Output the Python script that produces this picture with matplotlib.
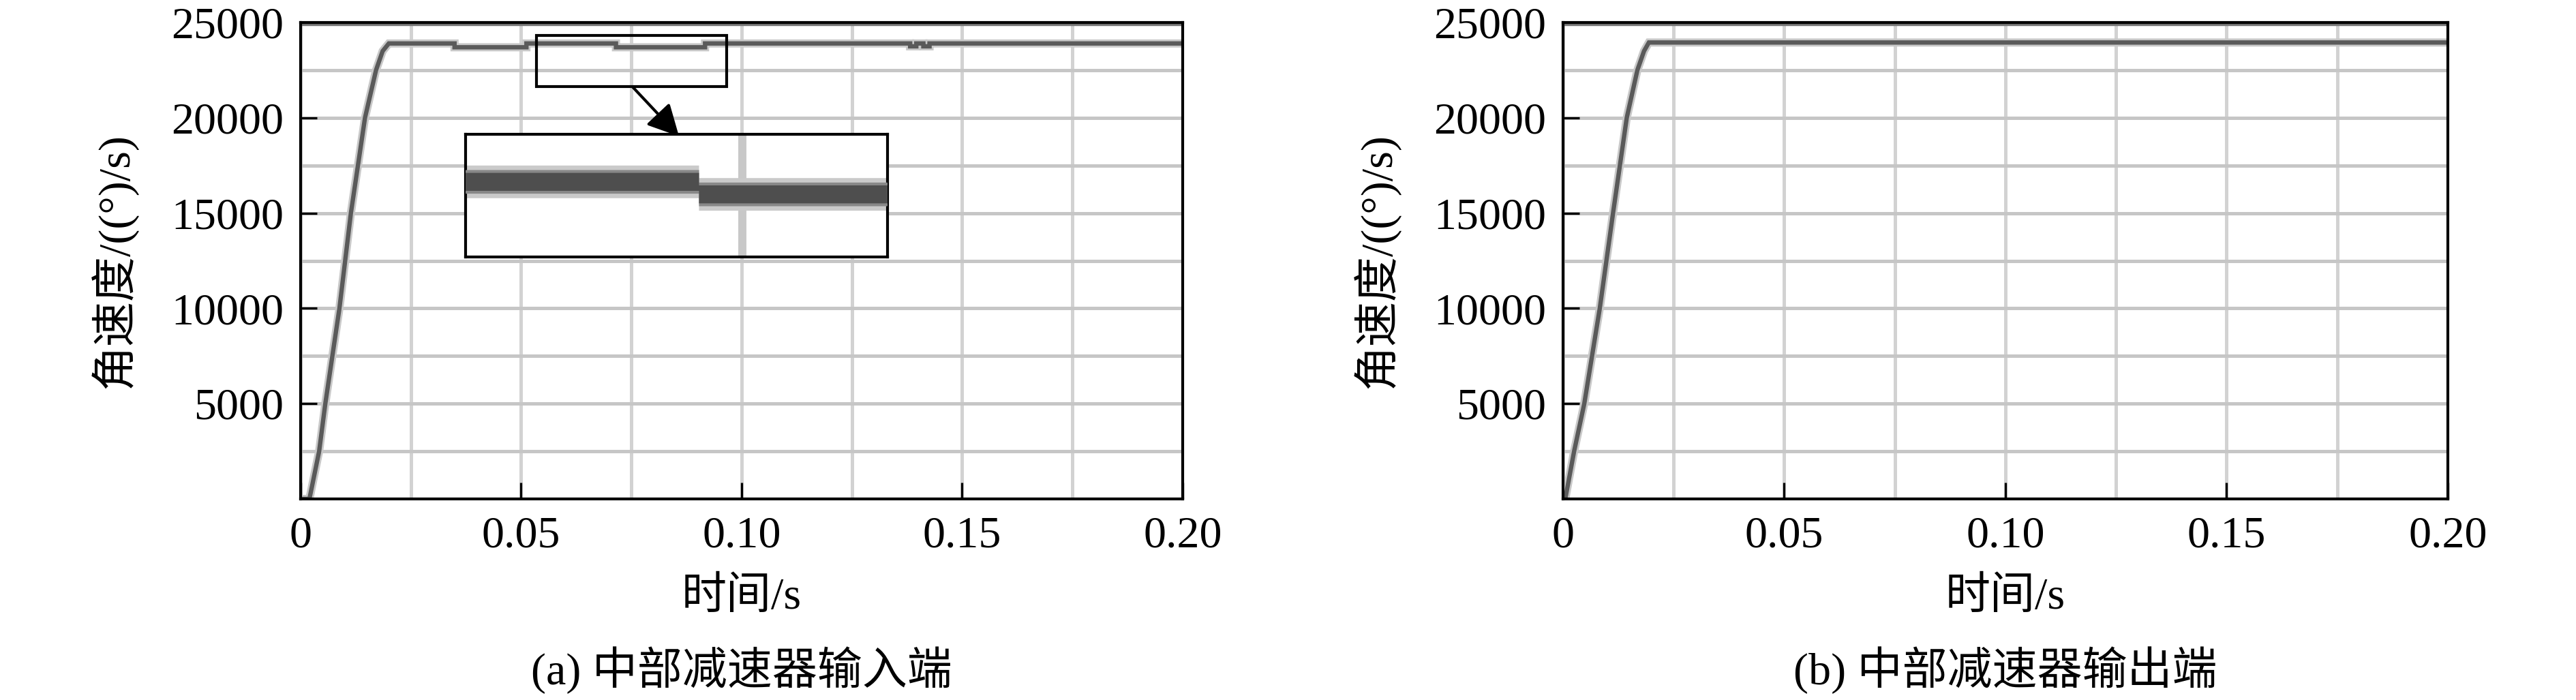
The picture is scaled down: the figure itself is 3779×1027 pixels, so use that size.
import numpy as np
import matplotlib
matplotlib.use('Agg')
import matplotlib.pyplot as plt
from matplotlib.patches import Rectangle

# ---------------- data ----------------
# (a) input end of the middle reducer
t_in = [0.0, 0.0020, 0.0042, 0.0056, 0.0088, 0.0114, 0.0146, 0.0171, 0.0186, 0.0200,
        0.0349, 0.0349, 0.0512, 0.0512, 0.0715, 0.0715, 0.0917, 0.0917,
        0.1382, 0.1382, 0.1396, 0.1396, 0.1412, 0.1412, 0.1426, 0.1426, 0.2000]
w_in = [0, 0, 2500, 5000, 10000, 15000, 20000, 22500, 23500, 23900,
        23900, 23700, 23700, 23900, 23900, 23700, 23700, 23900,
        23900, 23750, 23750, 23900, 23900, 23750, 23750, 23900, 23900]

# (b) output end of the middle reducer
t_out = [0.0, 0.0005, 0.0025, 0.0048, 0.0083, 0.0113, 0.0144, 0.0168, 0.0183, 0.0194, 0.2000]
w_out = [0, 0, 2500, 5000, 10000, 15000, 20000, 22500, 23500, 23950, 23950]

x_ticks = [0, 0.05, 0.10, 0.15, 0.20]
x_ticklabels = ['0', '0.05', '0.10', '0.15', '0.20']
y_ticks = [5000, 10000, 15000, 20000, 25000]
y_ticklabels = ['5000', '10000', '15000', '20000', '25000']
x_grid = [0, 0.025, 0.05, 0.075, 0.10, 0.125, 0.15, 0.175, 0.20]
y_grid = [0, 2500, 5000, 7500, 10000, 12500, 15000, 17500, 20000, 22500, 25000]

x_label = '时间/s'
y_label = '角速度/((°)/s)'
captions = ['(a) 中部减速器输入端', '(b) 中部减速器输出端']

# zoom annotation (left panel)
zoom_box_t = (0.0535, 0.0966)
zoom_box_w = (21638, 24320)
inset_t = (0.03735, 0.1330)
inset_w = (12697, 19134)
inset_xlim = (0.0525, 0.0868)
inset_ylim = (22700, 24660)
inset_grid_t = 0.075
arrow_from = (0.0752, 21638)
arrow_to = (0.0858, 19027)

# ---------------- style ----------------
FAM = ['Liberation Serif', 'Noto Sans CJK SC']
plt.rcParams['font.family'] = FAM
FS = 47.5
W, H = 3780, 1027
fig = plt.figure(figsize=(W / 100, H / 100), dpi=100)

def make_axes(left_px, width_px):
    return fig.add_axes([left_px / W, 1 - 732 / H, width_px / W, 699 / H])

def style_axes(ax, t, w, caption):
    ax.set_xlim(0, 0.2)
    ax.set_ylim(0, 25000)
    for x in x_grid:
        ax.axvline(x, color='#d2d2d2', lw=3.6, zorder=1)
    for y in y_grid:
        ax.axhline(y, color='#c6c6c6', lw=3.6, zorder=1)
    ax.axhline(25000, color='#777777', lw=7.5, zorder=2)
    ax.plot(t, w, color='#c8c8c8', lw=8.6, solid_joinstyle='miter', zorder=3)
    ax.plot(t, w, color='#5a5a5a', lw=4.6, solid_joinstyle='miter', zorder=4)
    ax.set_xticks(x_ticks)
    ax.set_xticklabels(x_ticklabels)
    ax.set_yticks(y_ticks)
    ax.set_yticklabels(y_ticklabels)
    ax.tick_params(direction='in', length=17, width=2.4, pad=18,
                   labelsize=FS, colors='black')
    for s in ax.spines.values():
        s.set_linewidth(3)
        s.set_color('black')
        s.set_zorder(8)
    ax.set_ylabel(y_label, fontsize=FS)
    ax.yaxis.set_label_coords(-0.185, 0.5)
    ax.set_xlabel(x_label, fontsize=FS, va='center')
    ax.xaxis.set_label_coords(0.5, -0.2074)
    ax.text(0.5, -0.359, caption, transform=ax.transAxes, ha='center',
            va='center', fontsize=FS)

ax1 = make_axes(441, 1294)
style_axes(ax1, t_in, w_in, captions[0])
ax2 = make_axes(2293, 1298)
style_axes(ax2, t_out, w_out, captions[1])

# zoom box
ax1.add_patch(Rectangle((zoom_box_t[0], zoom_box_w[0]),
                        zoom_box_t[1] - zoom_box_t[0], zoom_box_w[1] - zoom_box_w[0],
                        fill=False, ec='black', lw=3, zorder=6))

# inset
axin = ax1.inset_axes([inset_t[0], inset_w[0], inset_t[1] - inset_t[0],
                       inset_w[1] - inset_w[0]], transform=ax1.transData)
axin.set_facecolor('white')
axin.set_xlim(*inset_xlim)
axin.set_ylim(*inset_ylim)
axin.set_xticks([])
axin.set_yticks([])
axin.axvline(inset_grid_t, color='#c8c8c8', lw=8.6, zorder=1)
ta = np.array(t_in, dtype=float)
wa = np.array(w_in, dtype=float)
jumps = np.where(np.diff(ta) == 0)[0] + 1
ts = np.insert(ta, jumps, np.nan)
ws = np.insert(wa, jumps, np.nan)
axin.plot(ts, ws, color='#cacaca', lw=34.5, solid_capstyle='butt', zorder=2)
axin.plot(ts, ws, color='#888888', lw=25, solid_capstyle='butt', zorder=3)
axin.plot(ts, ws, color='#4e4e4e', lw=19, solid_capstyle='butt', zorder=4)
for s in axin.spines.values():
    s.set_linewidth(3)
    s.set_color('black')

# arrow
ax1.annotate('', xy=arrow_to, xytext=arrow_from, xycoords='data',
             arrowprops=dict(arrowstyle='-|>,head_length=1.4,head_width=0.72',
                             mutation_scale=20, color='black', lw=3,
                             shrinkA=0, shrinkB=0),
             zorder=7)

fig.savefig('out.png', dpi=100, facecolor='white')
